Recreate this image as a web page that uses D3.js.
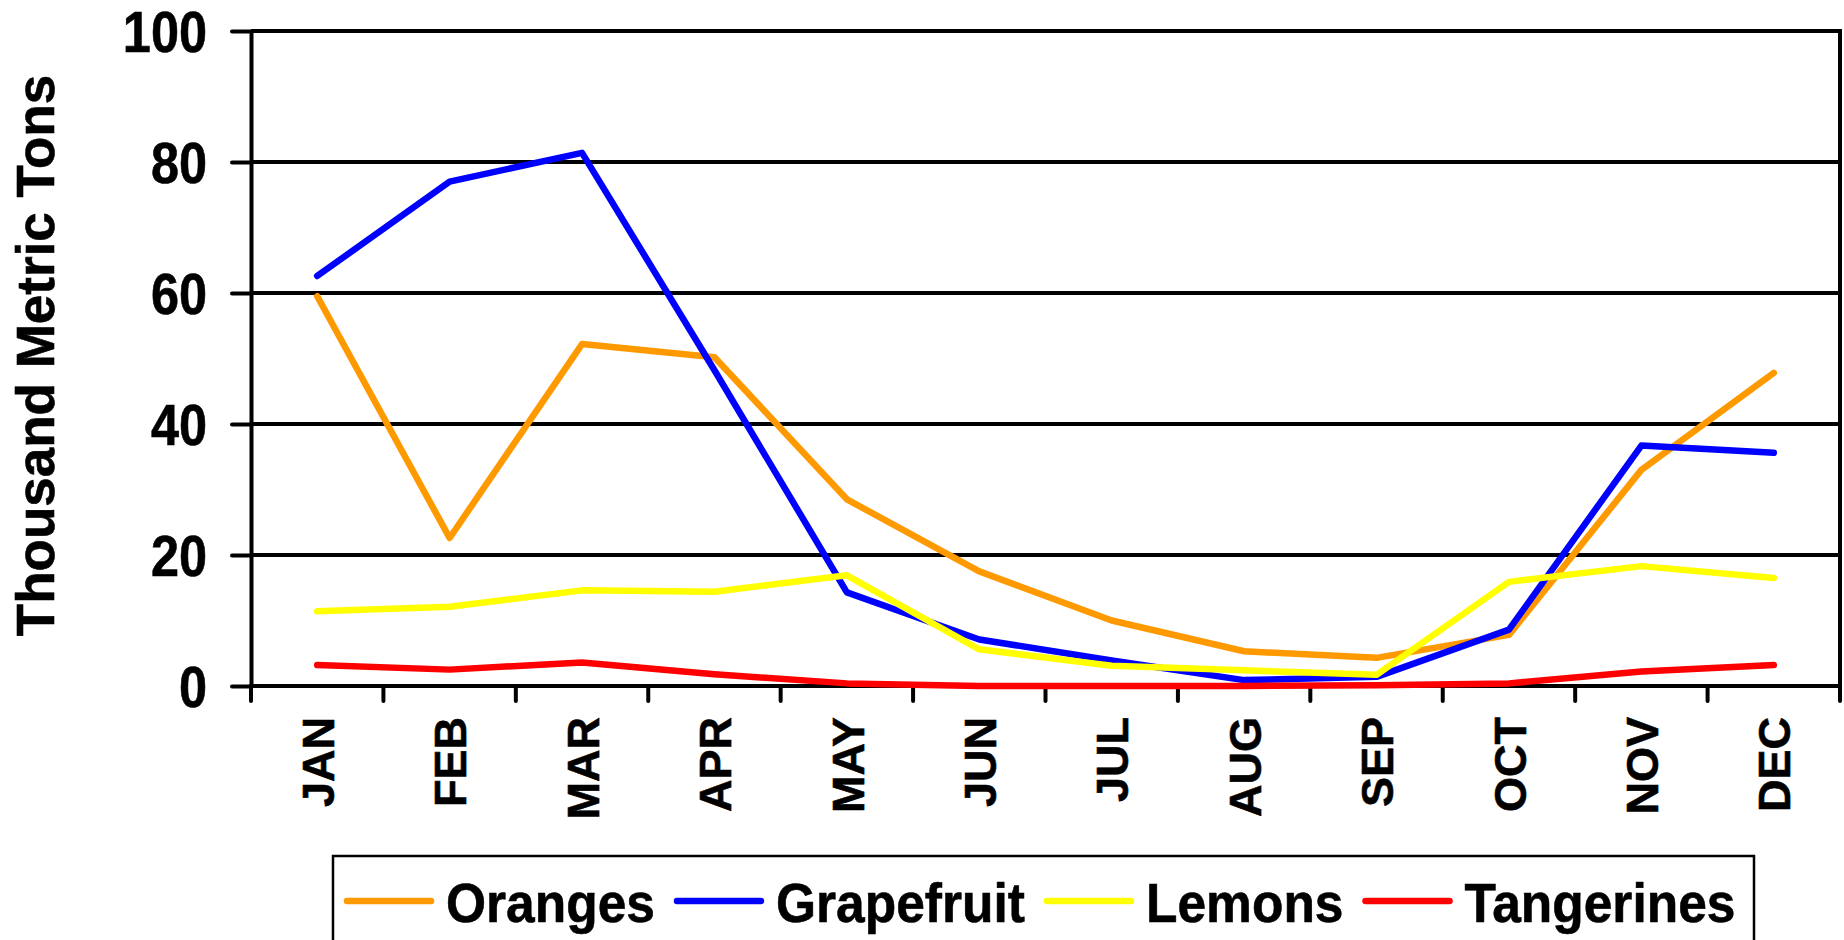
<!DOCTYPE html>
<html>
<head>
<meta charset="utf-8">
<script src="https://cdn.jsdelivr.net/npm/d3@7"></script>
<style>
  html, body { margin: 0; padding: 0; background: #fff; }
  svg { display: block; }
  text { font-family: "Liberation Sans", Arial, sans-serif; font-weight: bold; fill: #000; stroke: #000; stroke-width: 0.6px; }
</style>
</head>
<body>
<svg id="chart" width="1844" height="940"></svg>
<script>
const months = ["JAN","FEB","MAR","APR","MAY","JUN","JUL","AUG","SEP","OCT","NOV","DEC"];
const oranges    = [59.5, 22.6, 52.2, 50.2, 28.5, 17.5, 10.0, 5.3, 4.3, 7.8, 33.0, 47.8];
const grapefruit = [62.6, 77.0, 81.4, 48.2, 14.3, 7.1, 3.9, 0.9, 1.4, 8.6, 36.7, 35.6];
const lemons     = [11.4, 12.1, 14.6, 14.4, 16.9, 5.6, 3.1, 2.4, 1.7, 15.9, 18.3, 16.5];
const tangerines = [3.2, 2.5, 3.6, 1.8, 0.4, 0.0, 0.0, 0.0, 0.1, 0.4, 2.2, 3.2];
const yTicks = [0, 20, 40, 60, 80, 100];
const seriesNames = ["Oranges", "Grapefruit", "Lemons", "Tangerines"];
const seriesColors = ["#FF9900", "#0000FF", "#FFFF00", "#FF0000"];
const yTitle = "Thousand Metric Tons";

const series = [oranges, grapefruit, lemons, tangerines].map((v, i) => ({
  name: seriesNames[i], color: seriesColors[i], values: v
}));

const svg = d3.select("#chart");
const plot = { left: 251, right: 1840, top: 31, bottom: 686 };

const x = d3.scaleBand().domain(months).range([plot.left, plot.right]).padding(0);
const y = d3.scaleLinear().domain([0, 100]).range([plot.bottom, plot.top]);

// gridlines
svg.append("g").selectAll("line").data(yTicks.filter(d => d > 0)).join("line")
  .attr("x1", plot.left).attr("x2", plot.right)
  .attr("y1", d => y(d)).attr("y2", d => y(d))
  .attr("stroke", "#000").attr("stroke-width", 4);

// right border
svg.append("line")
  .attr("x1", plot.right).attr("x2", plot.right)
  .attr("y1", plot.top - 2).attr("y2", plot.bottom)
  .attr("stroke", "#000").attr("stroke-width", 4);

// y axis
const yAxis = svg.append("g")
  .attr("transform", `translate(${plot.left},0)`)
  .call(d3.axisLeft(y).tickValues(yTicks).tickSize(19).tickSizeOuter(0).tickPadding(24));
yAxis.select(".domain").attr("stroke", "#000").attr("stroke-width", 4);
yAxis.selectAll(".tick line").attr("stroke", "#000").attr("stroke-width", 4)
  .attr("stroke-linecap", "round");
yAxis.selectAll(".tick text")
  .style("font-size", "57px").style("font-weight", "bold")
  .style("font-family", "'Liberation Sans', Arial, sans-serif")
  .attr("x", 0)
  .attr("transform", "translate(-44,0) scale(0.885,1)")
  .attr("dy", "0.36em").attr("fill", "#000");

// x axis line
svg.append("line")
  .attr("x1", plot.left - 2).attr("x2", plot.right + 2)
  .attr("y1", plot.bottom).attr("y2", plot.bottom)
  .attr("stroke", "#000").attr("stroke-width", 4);

// x ticks at category boundaries
const boundaries = months.map(m => x(m)).concat([x(months[months.length - 1]) + x.bandwidth()]);
svg.append("g").selectAll("line").data(boundaries).join("line")
  .attr("x1", d => d).attr("x2", d => d)
  .attr("y1", plot.bottom).attr("y2", plot.bottom + 15)
  .attr("stroke", "#000").attr("stroke-width", 4).attr("stroke-linecap", "round");

// x labels
svg.append("g").selectAll("text").data(months).join("text")
  .attr("transform", d => `translate(${x(d) + x.bandwidth() / 2},717) rotate(-90)`)
  .attr("text-anchor", "end").attr("dy", "0.37em")
  .style("font-size", "45px")
  .text(d => d);

// y title
svg.append("text")
  .attr("transform", `translate(54,${(plot.top + plot.bottom) / 2 - 3}) rotate(-90)`)
  .attr("text-anchor", "middle")
  .style("font-size", "53px")
  .text(yTitle);

// lines
const line = d3.line()
  .x((d, i) => x(months[i]) + x.bandwidth() / 2)
  .y(d => y(d));

svg.append("g").selectAll("path").data(series).join("path")
  .attr("d", d => line(d.values))
  .attr("fill", "none")
  .attr("stroke", d => d.color)
  .attr("stroke-width", 6.5)
  .attr("stroke-linejoin", "round")
  .attr("stroke-linecap", "round");

// legend
const legend = svg.append("g");
legend.append("rect")
  .attr("x", 333).attr("y", 856).attr("width", 1421).attr("height", 140)
  .attr("fill", "#fff").attr("stroke", "#000").attr("stroke-width", 2.5);

let lx = 347;
const ly = 901;
const legendScale = 0.92;
series.forEach(s => {
  legend.append("line")
    .attr("x1", lx).attr("x2", lx + 84).attr("y1", ly).attr("y2", ly)
    .attr("stroke", s.color).attr("stroke-width", 6.5).attr("stroke-linecap", "round");
  const t = legend.append("text")
    .attr("transform", `translate(${lx + 99},${ly + 21}) scale(${legendScale},1)`)
    .style("font-size", "56px")
    .text(s.name);
  lx = lx + 99 + t.node().getComputedTextLength() * legendScale + 22;
});
</script>
</body>
</html>
